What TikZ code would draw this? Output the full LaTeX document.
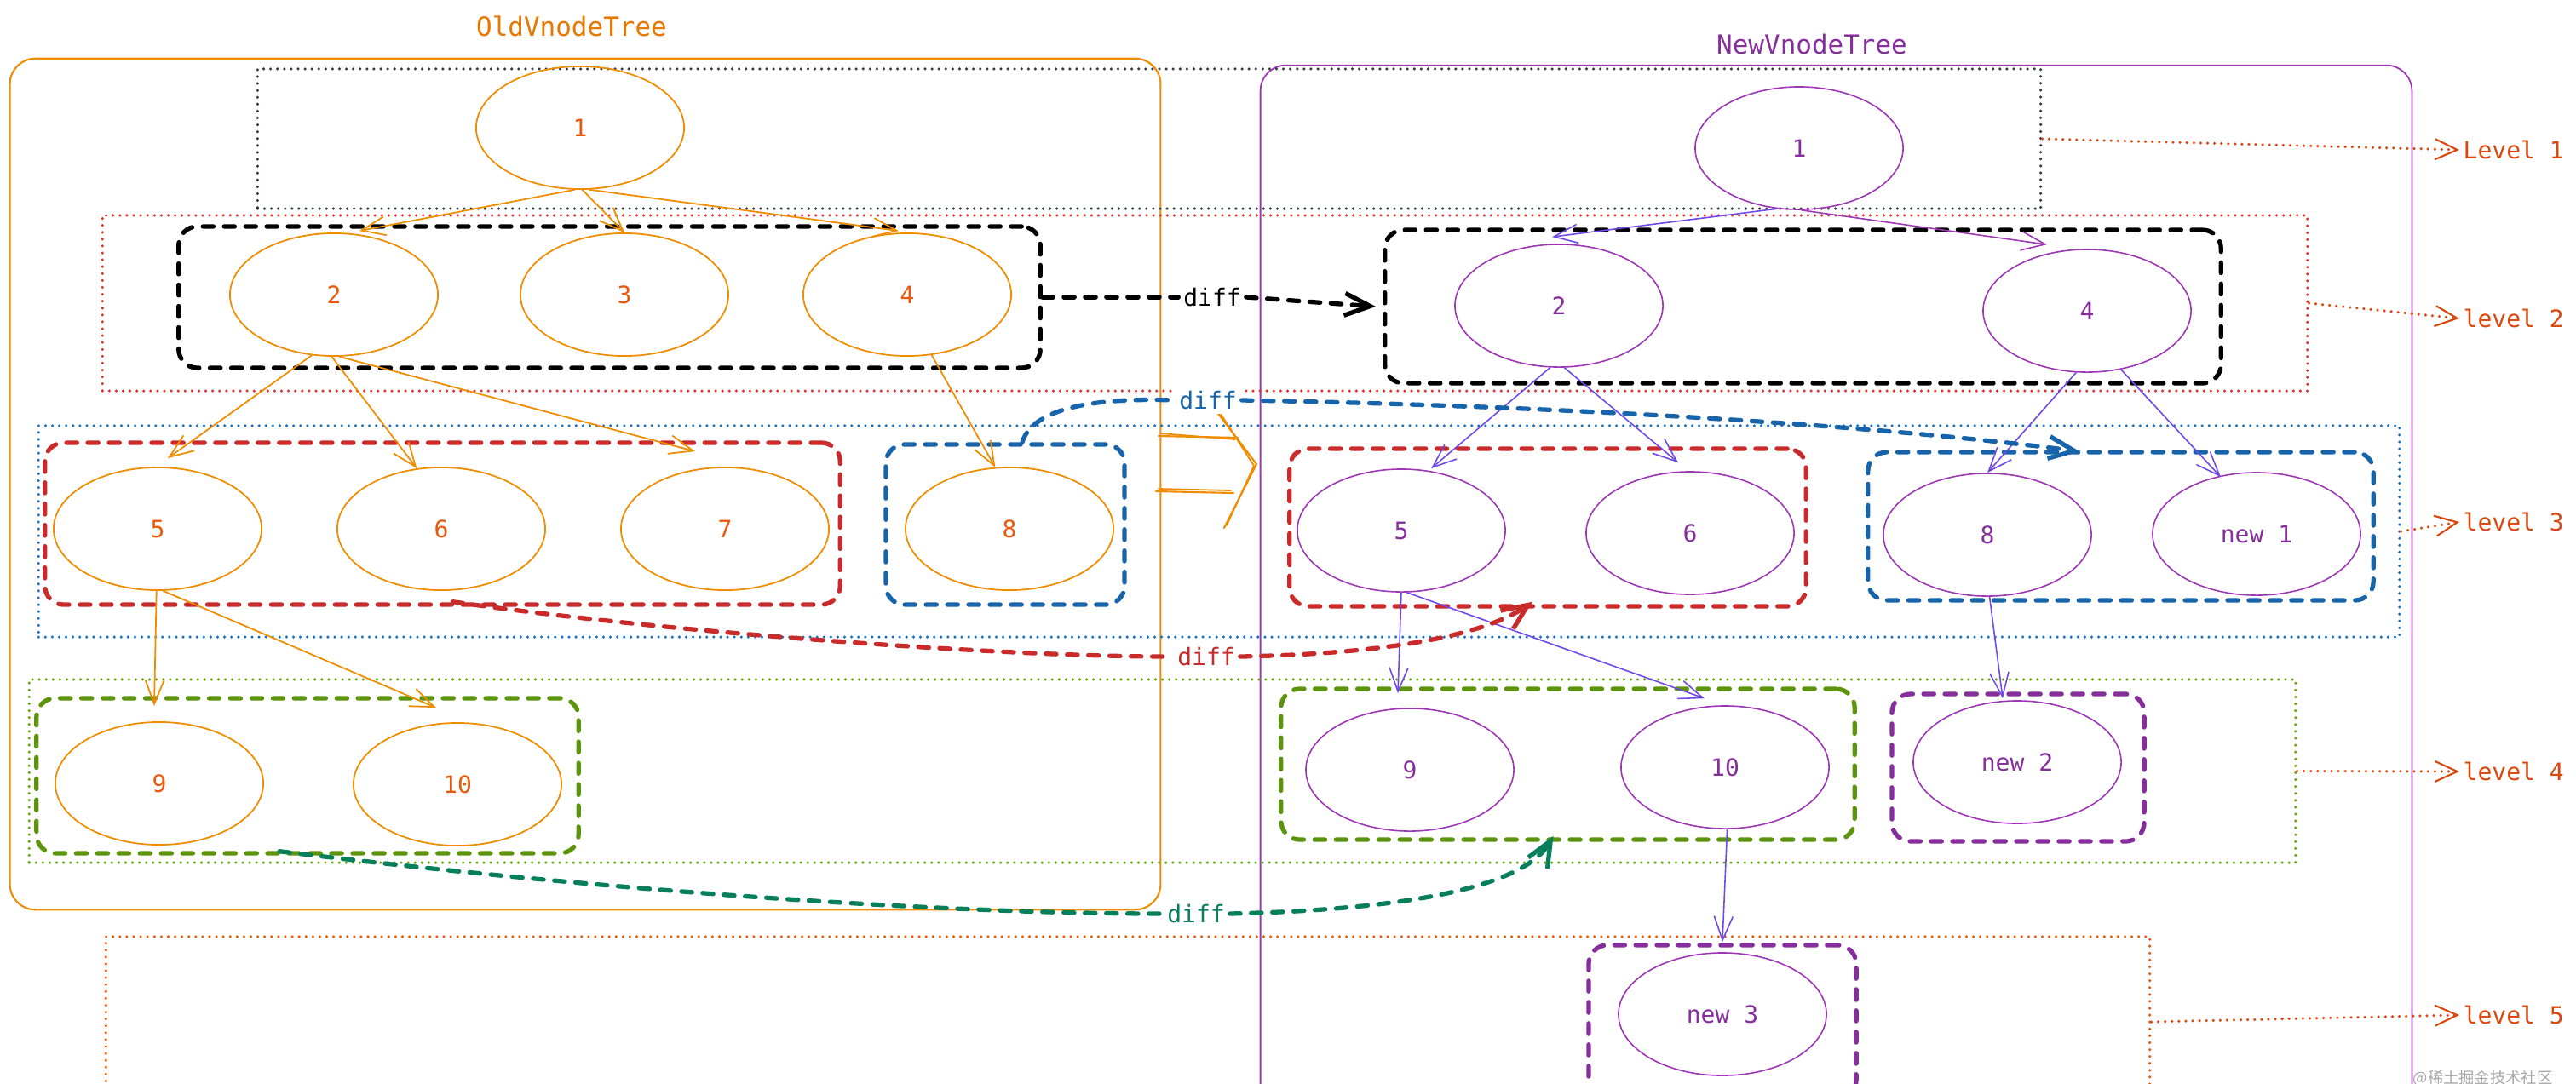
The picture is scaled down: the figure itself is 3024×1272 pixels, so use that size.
\documentclass[tikz,border=0pt]{standalone}
\usepackage{fontspec}
\setmainfont{DejaVu Sans Mono}
\newfontfamily\cjkfont{Noto Sans CJK SC}
\usetikzlibrary{shapes.geometric, arrows.meta}
\definecolor{cOrange}{HTML}{F08C00}
\definecolor{cOrTitle}{HTML}{E67700}
\definecolor{cOrText}{HTML}{E8590C}
\definecolor{cPurple}{HTML}{9C36B5}
\definecolor{cPurText}{HTML}{862E9C}
\definecolor{cViolet}{HTML}{7048E8}
\definecolor{cRed}{HTML}{C92A2A}
\definecolor{cRedDot}{HTML}{E03131}
\definecolor{cBlue}{HTML}{1864AB}
\definecolor{cBlueDot}{HTML}{1971C2}
\definecolor{cGreen}{HTML}{5C940D}
\definecolor{cGreenDot}{HTML}{66A80F}
\definecolor{cTeal}{HTML}{087F5B}
\definecolor{cLvl}{HTML}{D9480F}
\definecolor{cDark}{HTML}{343A40}
\begin{document}
\begin{tikzpicture}[x=0.01cm, y=-0.01cm,
  font=\fontsize{7.97pt}{9pt}\selectfont,
  titletxt/.style={font=\fontsize{8.8pt}{10pt}\selectfont, inner sep=0pt},
  onode/.style={ellipse, draw=cOrange, line width=0.5pt, minimum width=2.44cm, minimum height=1.44cm, inner sep=0pt, text=cOrText},
  nnode/.style={ellipse, draw=cPurple, line width=0.45pt, minimum width=2.44cm, minimum height=1.44cm, inner sep=0pt, text=cPurText},
  grp/.style={draw, rounded corners=0.22cm, line width=1.5pt, dash pattern=on 3.5pt off 3.6pt, line cap=round, inner sep=0pt},
  lvlbox/.style={draw, line width=1pt, dash pattern=on 0pt off 2.3pt, line cap=round, inner sep=0pt},
  cont/.style={draw, rounded corners=0.3cm, line width=0.6pt, inner sep=0pt},
  oarr/.style={draw=cOrange, line width=0.5pt, -{Straight Barb[length=0.28cm, width=0.22cm]}},
  narr/.style={draw=cViolet, line width=0.45pt, -{Straight Barb[length=0.28cm, width=0.22cm]}},
  diffarr/.style={line width=1.5pt, dash pattern=on 3.5pt off 3.6pt, line cap=round, -{Straight Barb[length=0.3cm, width=0.26cm, line width=1.5pt]}},
  diffline/.style={line width=1.5pt, dash pattern=on 3.5pt off 3.6pt, line cap=round},
  difflbl/.style={fill=white, inner sep=1.5pt},
  lvlarr/.style={draw=cLvl, line width=1pt, dash pattern=on 0pt off 2.3pt, line cap=round, -{Straight Barb[length=0.26cm, width=0.24cm, line width=0.6pt]}},
  lvltxt/.style={text=cLvl, anchor=west, inner sep=0pt}
]
\useasboundingbox (0,0) rectangle (3024,1272);
\clip (0,0) rectangle (3024,1272);
\fill[white] (0,0) rectangle (3024,1272);

% titles
\node[titletxt, text=cOrTitle] (oldt) at (671,31) {OldVnodeTree};
\node[titletxt, text=cPurText] (newt) at (2127,52) {NewVnodeTree};

% containers
\node[cont, draw=cOrange, minimum width=13.50cm, minimum height=9.99cm] (oc) at (687,568.5) {};
\node[cont, draw=cPurple, line width=0.5pt, minimum width=13.51cm, minimum height=12.53cm] (nc) at (2155.5,703.5) {};

% level boxes
\node[lvlbox, draw=cDark, minimum width=20.92cm, minimum height=1.64cm] (lv1) at (1349,163) {};
\node[lvlbox, draw=cRedDot, minimum width=25.87cm, minimum height=2.06cm] (lv2) at (1414.5,356) {};
\node[lvlbox, draw=cBlueDot, minimum width=27.70cm, minimum height=2.48cm] (lv3) at (1431,624) {};
\node[lvlbox, draw=cGreenDot, minimum width=26.59cm, minimum height=2.15cm] (lv4) at (1364.5,905.5) {};
\node[lvlbox, draw=cOrText, minimum width=23.98cm, minimum height=2.00cm] (lv5) at (1324,1200) {};

% group boxes
\node[grp, draw=black, minimum width=10.11cm, minimum height=1.66cm] (oblk) at (715.5,349) {};
\node[grp, draw=black, minimum width=9.81cm, minimum height=1.80cm] (nblk) at (2116.5,360) {};
\node[grp, draw=cRed, minimum width=9.33cm, minimum height=1.90cm] (ored) at (519.5,615) {};
\node[grp, draw=cBlue, minimum width=2.80cm, minimum height=1.88cm] (oblue) at (1180,616) {};
\node[grp, draw=cRed, minimum width=6.06cm, minimum height=1.85cm] (nred) at (1817,619.5) {};
\node[grp, draw=cBlue, minimum width=5.93cm, minimum height=1.74cm] (nblue) at (2489.5,618) {};
\node[grp, draw=cGreen, minimum width=6.36cm, minimum height=1.82cm] (ogreen) at (361,911) {};
\node[grp, draw=cGreen, minimum width=6.73cm, minimum height=1.77cm] (ngreen) at (1840.5,897.5) {};
\node[grp, draw=cPurText, minimum width=2.96cm, minimum height=1.73cm] (npur2) at (2369,901.5) {};
\node[grp, draw=cPurText, minimum width=3.14cm, minimum height=1.80cm] (npur3) at (2022,1200) {};

% old nodes
\node[onode] (o1) at (681,150) {1};
\node[onode] (o2) at (392,346) {2};
\node[onode] (o3) at (733,346) {3};
\node[onode] (o4) at (1065,346) {4};
\node[onode] (o5) at (185,621) {5};
\node[onode] (o6) at (518,621) {6};
\node[onode] (o7) at (851,621) {7};
\node[onode] (o8) at (1185,621) {8};
\node[onode] (o9) at (187,920) {9};
\node[onode] (o10) at (537,921) {10};

% new nodes
\node[nnode] (n1) at (2112,174) {1};
\node[nnode] (n2) at (1830,359) {2};
\node[nnode] (n4) at (2450,365) {4};
\node[nnode] (n5) at (1645,623) {5};
\node[nnode] (n6) at (1984,626) {6};
\node[nnode] (n8) at (2333,628) {8};
\node[nnode] (nn1) at (2649,627) {new 1};
\node[nnode] (n9) at (1655,904) {9};
\node[nnode] (n10) at (2025,901) {10};
\node[nnode] (nn2) at (2368,895) {new 2};
\node[nnode] (nn3) at (2022,1191) {new 3};

% old connectors
\draw[oarr] (o1.265) -- ([xshift=0.3cm,yshift=0.02cm]o2.north);
\draw[oarr] (o1.272) -- (o3.north);
\draw[oarr] (o1.278) -- ([xshift=-0.1cm,yshift=0.02cm]o4.north);
\draw[oarr] (o2.250) -- ([xshift=0.12cm,yshift=0.1cm]o5.north);
\draw[oarr] (o2.268) -- (o6.112);
\draw[oarr] (o2.275) -- ([xshift=-0.35cm,yshift=0.18cm]o7.north);
\draw[oarr] (o4.292) -- (o8.103);
\draw[oarr] (o5.269) -- ([xshift=-0.06cm,yshift=0.18cm]o9.north);
\draw[oarr] (o5.275) -- ([xshift=-0.25cm,yshift=0.17cm]o10.north);

% new connectors
\draw[narr] (n1.250) -- ([xshift=-0.08cm,yshift=0.08cm]n2.north);
\draw[narr, draw=cPurple] (n1.272) -- ([xshift=-0.47cm,yshift=0.05cm]n4.north);
\draw[narr] (n2.262) -- ([xshift=0.35cm]n5.north);
\draw[narr] (n2.275) -- ([xshift=-0.14cm,yshift=0.1cm]n6.north);
\draw[narr] (n4.260) -- (n8.north);
\draw[narr] (n4.300) -- ([xshift=-0.42cm,yshift=-0.06cm]nn1.north);
\draw[narr] (n5.south) -- ([xshift=-0.14cm,yshift=0.17cm]n9.north);
\draw[narr] (n5.275) -- ([xshift=-0.24cm,yshift=0.08cm]n10.north);
\draw[narr] (n8.272) -- ([xshift=-0.17cm,yshift=0.02cm]nn2.north);
\draw[narr] (n10.272) -- ([yshift=0.12cm]nn3.north);

% big hollow arrow between trees
\draw[cOrange, line width=0.6pt, line cap=round, line join=round] (1360,512) -- (1453,514) (1357,577) -- (1448,579) (1428,483) -- (1475,545) -- (1437,620);
\draw[cOrange, line width=0.5pt, line cap=round] (1362,509) -- (1450,516) (1360,574) -- (1445,576) (1433,486) -- (1472,547) -- (1440,617);

% diff labels
\node[difflbl, text=black] (dblk) at (1423,349) {diff};
\node[difflbl, text=cBlue] (dblue) at (1418,470) {diff};
\node[difflbl, text=cRed] (dred) at (1416,771) {diff};
\node[difflbl, text=cTeal] (dteal) at (1404,1073) {diff};

% diff connectors
\draw[diffline, black] (oblk.east) -- (dblk.west);
\draw[diffarr, black] (dblk.east) -- ([xshift=-0.08cm]nblk.west);
\draw[diffline, cBlue] ([xshift=0.2cm]oblue.north) .. controls (1215,470) and (1320,468) .. (dblue.west);
\draw[diffarr, cBlue] (dblue.east) .. controls (1900,478) and (2250,505) .. ([xshift=-0.48cm,yshift=-0.02cm]nblue.north);
\draw[diffline, cRed] ([xshift=0.12cm,yshift=0.06cm]ored.south) .. controls (800,745) and (1200,772) .. (dred.west);
\draw[diffarr, cRed] (dred.east) .. controls (1620,768) and (1740,748) .. ([xshift=-0.18cm,yshift=0.08cm]nred.south);
\draw[diffline, cTeal] ([xshift=-0.33cm,yshift=0.05cm]ogreen.south) .. controls (700,1045) and (1100,1073) .. (dteal.west);
\draw[diffarr, cTeal] (dteal.east) .. controls (1660,1068) and (1790,1040) .. ([xshift=-0.17cm,yshift=0.07cm]ngreen.south);

% level labels
\node[lvltxt] (t1) at (2891,176) {Level 1};
\node[lvltxt] (t2) at (2891,374) {level 2};
\node[lvltxt] (t3) at (2891,613) {level 3};
\node[lvltxt] (t4) at (2891,906) {level 4};
\node[lvltxt] (t5) at (2891,1192) {level 5};
\draw[lvlarr] (lv1.east) -- ([xshift=-0.04cm]t1.west);
\draw[lvlarr] (lv2.east) -- ([xshift=-0.04cm]t2.west);
\draw[lvlarr] (lv3.east) -- ([xshift=-0.04cm]t3.west);
\draw[lvlarr] (lv4.east) -- ([xshift=-0.04cm]t4.west);
\draw[lvlarr] (lv5.east) -- ([xshift=-0.04cm]t5.west);

% watermark
\node[anchor=west, inner sep=0pt, text=black!35, font=\cjkfont\fontsize{5.2pt}{6pt}\selectfont] (wm) at (2832,1266) {@稀土掘金技术社区};
\end{tikzpicture}
\end{document}
